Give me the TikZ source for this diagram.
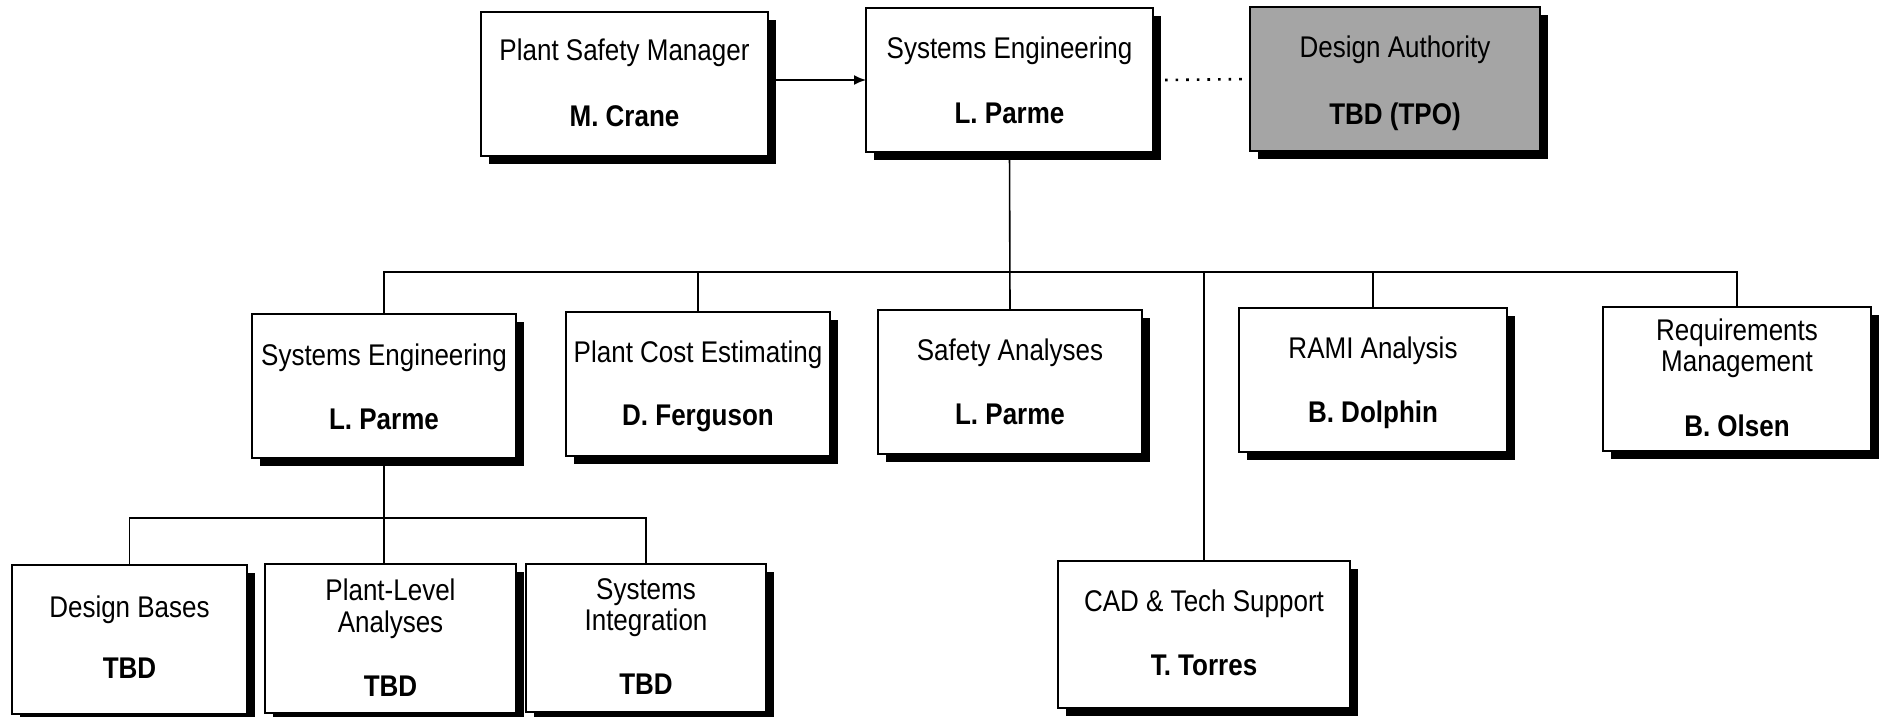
\documentclass[tikz,border=0pt]{standalone}
\usepackage{fontspec}
\usepackage{graphicx}
\setmainfont{Liberation Sans}
\usetikzlibrary{shadows,arrows.meta,calc}

\definecolor{authgray}{RGB}{165,165,165}

% slightly condensed-looking lettering: stretch glyphs vertically
\newcommand{\tallText}[1]{\scalebox{1}[1.15]{#1}}

\tikzset{
  orgbox/.style={draw=black, line width=2pt, fill=white, inner sep=0pt, outer sep=0pt,
    general shadow={fill=black, shadow xshift=8pt, shadow yshift=-8pt}},
  ttl/.style={anchor=base, inner sep=0pt, font=\fontsize{26}{31}\selectfont},
  who/.style={anchor=base, inner sep=0pt, font=\fontsize{26}{31}\selectfont\bfseries},
  conn/.style={draw=black, line width=1.6pt},
  arr/.style={conn, -{Latex[length=12pt,width=10pt]}},
  dots/.style={draw=black, line width=2.6pt, dash pattern=on 2.6pt off 8pt}
}

\begin{document}
\begin{tikzpicture}[x=1pt, y=-1pt]
\useasboundingbox (0,0) rectangle (1881,717);

% top row
\node[orgbox, minimum width=287pt, minimum height=144pt] (psm) at (624.5,84) {};
\node[orgbox, minimum width=287pt, minimum height=144pt] (se) at (1009.5,80) {};
\node[orgbox, fill=authgray, minimum width=290pt, minimum height=144pt] (da) at (1395,79) {};

% second row
\node[orgbox, minimum width=264pt, minimum height=144pt] (se2) at (384,386) {};
\node[orgbox, minimum width=264pt, minimum height=144pt] (pce) at (698,384) {};
\node[orgbox, minimum width=264pt, minimum height=144pt] (sa) at (1010,382) {};
\node[orgbox, minimum width=268pt, minimum height=144pt] (rami) at (1373,380) {};
\node[orgbox, minimum width=268pt, minimum height=144pt] (rm) at (1737,379) {};

% bottom row
\node[orgbox, minimum width=292pt, minimum height=147pt] (cad) at (1204,634.5) {};
\node[orgbox, minimum width=235pt, minimum height=149pt] (db) at (129.5,639.5) {};
\node[orgbox, minimum width=251pt, minimum height=149pt] (pl) at (390.5,638.5) {};
\node[orgbox, minimum width=240pt, minimum height=148pt] (si) at (646,638) {};

% texts
\node[ttl] (psm-t) at (psm.center |- 0,60.5) {\tallText{Plant Safety Manager}};
\node[who] (psm-n) at (psm.center |- 0,126.5) {\tallText{M. Crane}};
\node[ttl] (se-t) at (se.center |- 0,58.5) {\tallText{Systems Engineering}};
\node[who] (se-n) at (se.center |- 0,123.5) {\tallText{L. Parme}};
\node[ttl] (da-t) at (da.center |- 0,57.5) {\tallText{Design Authority}};
\node[who] (da-n) at (da.center |- 0,124.5) {\tallText{TBD (TPO)}};

\node[ttl] (se2-t) at (se2.center |- 0,365.5) {\tallText{Systems Engineering}};
\node[who] (se2-n) at (se2.center |- 0,429.5) {\tallText{L. Parme}};
\node[ttl] (pce-t) at (pce.center |- 0,362.5) {\tallText{Plant Cost Estimating}};
\node[who] (pce-n) at (pce.center |- 0,425.5) {\tallText{D. Ferguson}};
\node[ttl] (sa-t) at (sa.center |- 0,360.5) {\tallText{Safety Analyses}};
\node[who] (sa-n) at (sa.center |- 0,424.5) {\tallText{L. Parme}};
\node[ttl] (rami-t) at (rami.center |- 0,358.5) {\tallText{RAMI Analysis}};
\node[who] (rami-n) at (rami.center |- 0,422.5) {\tallText{B. Dolphin}};
\node[ttl] (rm-t) at (rm.center |- 0,340.5) {\tallText{Requirements}};
\node[ttl] (rm-t2) at (rm.center |- 0,371.5) {\tallText{Management}};
\node[who] (rm-n) at (rm.center |- 0,436.5) {\tallText{B. Olsen}};

\node[ttl] (cad-t) at (cad.center |- 0,611.5) {\tallText{CAD \& Tech Support}};
\node[who] (cad-n) at (cad.center |- 0,675.5) {\tallText{T. Torres}};
\node[ttl] (db-t) at (db.center |- 0,617.5) {\tallText{Design Bases}};
\node[who] (db-n) at (db.center |- 0,678.5) {\tallText{TBD}};
\node[ttl] (pl-t) at (pl.center |- 0,600.5) {\tallText{Plant-Level}};
\node[ttl] (pl-t2) at (pl.center |- 0,632.5) {\tallText{Analyses}};
\node[who] (pl-n) at (pl.center |- 0,696.5) {\tallText{TBD}};
\node[ttl] (si-t) at (si.center |- 0,599.5) {\tallText{Systems}};
\node[ttl] (si-t2) at (si.center |- 0,630.5) {\tallText{Integration}};
\node[who] (si-n) at (si.center |- 0,694.5) {\tallText{TBD}};

% connectors
\draw[arr] ([xshift=8pt]se.west -| psm.east) -- (se.west);
\draw[dots] ([xshift=12pt]se.east) -- (da.west);

\path (se.south) ++(0,120) coordinate (hub);
\draw[conn] (se.south) -- (sa.north);
\draw[conn] (se2.north) |- (hub) -| (rm.north);
\draw[conn] (pce.north) -- (pce.north |- hub);
\draw[conn] (rami.north) -- (rami.north |- hub);
\draw[conn] (cad.north) -- (cad.north |- hub);

\path (se2.south) ++(0,60) coordinate (hub2);
\draw[conn] ([yshift=-8pt]se2.south) -- (se2.south |- pl.north);
\draw[conn] (db.north) |- (hub2) -| (si.north);
\end{tikzpicture}
\end{document}
